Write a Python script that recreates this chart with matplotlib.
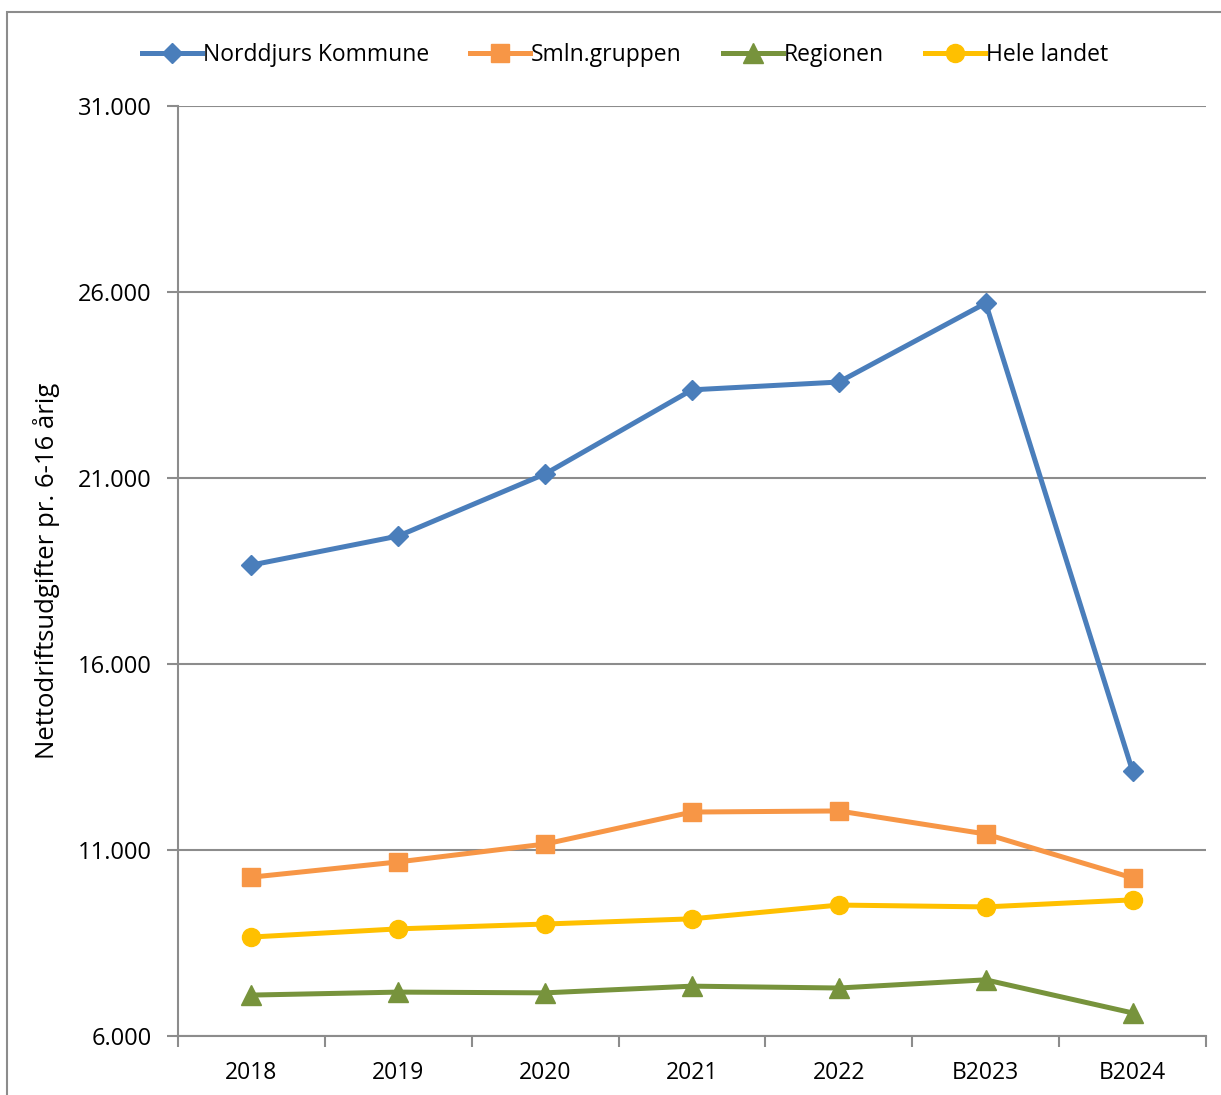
import matplotlib.pyplot as plt
from matplotlib.patches import Rectangle
from matplotlib.ticker import FuncFormatter

plt.rcParams['font.family'] = ['Open Sans', 'DejaVu Sans']

# data
years = ['2018', '2019', '2020', '2021', '2022', 'B2023', 'B2024']
norddjurs = [18660, 19440, 21110, 23370, 23580, 25700, 13120]
smln = [10270, 10680, 11160, 12020, 12050, 11430, 10250]
regionen = [7100, 7180, 7160, 7340, 7290, 7510, 6620]
hele_landet = [8660, 8880, 9010, 9150, 9520, 9470, 9660]

W, H = 1221, 1095
fig = plt.figure(figsize=(W / 100, H / 100), dpi=100)
ax = fig.add_axes([178 / W, 1 - 1036 / H, (1206 - 178) / W, (1036 - 106) / H])

# outer frame (chart area border, cut by the image edge)
fig.patches.append(Rectangle((7 / W, -0.1), 1.2, 1 - 12 / H + 0.1, transform=fig.transFigure,
                             fill=False, edgecolor='#8c8c8c', linewidth=1.5))

x = range(len(years))
ax.plot(x, norddjurs, color='#4a7ebb', lw=3.6, marker='D', ms=10, label='Norddjurs Kommune', zorder=5)
ax.plot(x, smln, color='#f79646', lw=3.6, marker='s', ms=13, label='Smln.gruppen', zorder=4)
ax.plot(x, regionen, color='#77933c', lw=3.6, marker='^', ms=14, label='Regionen', zorder=3)
ax.plot(x, hele_landet, color='#ffc000', lw=3.6, marker='o', ms=13, label='Hele landet', zorder=3)

ax.set_xlim(-0.5, len(years) - 0.5)
ax.set_ylim(6000, 31000)
ax.set_yticks(range(6000, 31001, 5000))
ax.yaxis.set_major_formatter(FuncFormatter(lambda v, p: f'{int(v):,}'.replace(',', '.')))
ax.set_xticks(x)
ax.set_xticklabels(years)
ax.set_xticks([i - 0.5 for i in range(len(years) + 1)], minor=True)
ax.tick_params(axis='x', which='major', length=0, pad=18, labelsize=16.5)
ax.tick_params(axis='x', which='minor', length=8, width=1.5, color='#8c8c8c', direction='out')
ax.tick_params(axis='y', length=8, width=1.5, color='#8c8c8c', pad=11, labelsize=17)

ax.grid(axis='y', color='#8c8c8c', lw=1.5)
ax.set_axisbelow(True)
for s in ['top', 'right']:
    ax.spines[s].set_visible(False)
for s in ['left', 'bottom']:
    ax.spines[s].set_color('#8c8c8c')
    ax.spines[s].set_linewidth(1.5)

ax.set_ylabel('Nettodriftsudgifter pr. 6-16 årig', fontsize=18.5)
ax.yaxis.set_label_coords(-0.115, 0.5)

fig.legend(loc='center', bbox_to_anchor=(0.512, 1 - 55 / H), ncol=4, frameon=False, fontsize=16.5,
           handlelength=2.6, handletextpad=0.05, columnspacing=1.8)

fig.savefig('out.png', dpi=100)
